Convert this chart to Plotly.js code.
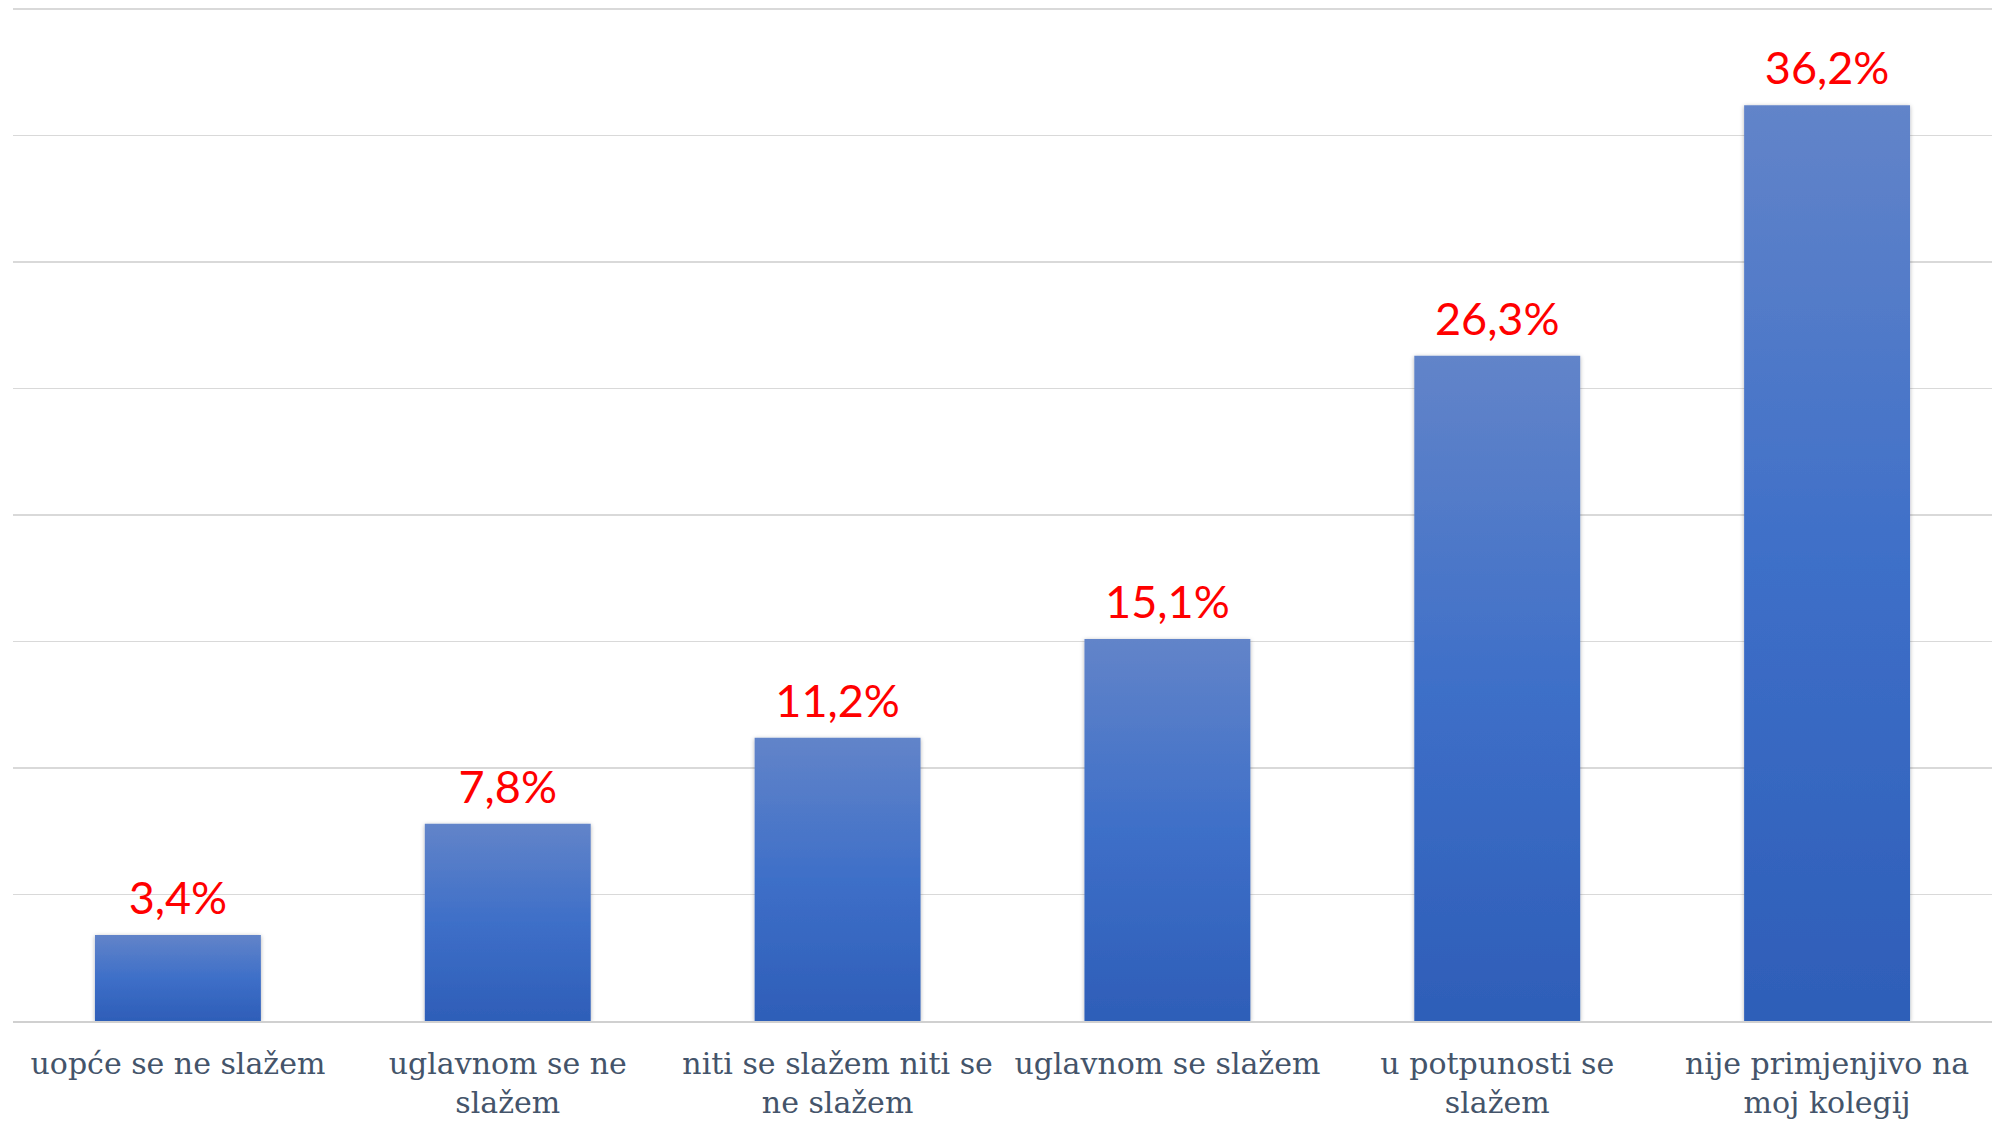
<!DOCTYPE html>
<html>
<head>
<meta charset="utf-8">
<script src="https://cdn.plot.ly/plotly-3.0.1.min.js"></script>
<style>
html,body{margin:0;padding:0;background:#fff;}
#chart{width:1992px;height:1125px;}
</style>
</head>
<body>
<div id="chart"></div>
<script>
var categories = [
  "uopće se ne slažem",
  "uglavnom se ne<br>slažem",
  "niti se slažem niti se<br>ne slažem",
  "uglavnom se slažem",
  "u potpunosti se<br>slažem",
  "nije primjenjivo na<br>moj kolegij"
];
var values = [3.4, 7.8, 11.2, 15.1, 26.3, 36.2];
var valueLabels = ["3,4%", "7,8%", "11,2%", "15,1%", "26,3%", "36,2%"];

var trace = {
  type: "bar",
  x: categories,
  y: values,
  text: valueLabels,
  texttemplate: "%{text}",
  textposition: "outside",
  cliponaxis: false,
  textfont: {family: "Lato, 'Open Sans', sans-serif", size: 45, color: "#ff0000"},
  marker: {color: "#3a6bc6", line: {width: 0}},
  hoverinfo: "skip"
};

var layout = {
  width: 1992,
  height: 1125,
  margin: {l: 13, r: 0, t: 0, b: 104},
  paper_bgcolor: "#ffffff",
  plot_bgcolor: "#ffffff",
  bargap: 0.497,
  showlegend: false,
  xaxis: {
    type: "category",
    showgrid: false,
    showline: true,
    linecolor: "#d0d0d0",
    linewidth: 2,
    ticks: "",
    ticklabelstandoff: 15,
    tickfont: {family: "'DejaVu Serif', serif", size: 30, color: "#44546a"},
    fixedrange: true
  },
  yaxis: {
    range: [0, 40.36],
    tick0: 0,
    dtick: 5,
    showgrid: true,
    gridcolor: "#d9d9d9",
    gridwidth: 1.5,
    showticklabels: false,
    zeroline: false,
    ticks: "",
    fixedrange: true
  }
};

function applyGradient(gd) {
  var svg = gd.querySelector("svg.main-svg");
  if (!svg) return;
  var ns = "http://www.w3.org/2000/svg";
  var defs = svg.querySelector("defs");
  if (!defs) { defs = document.createElementNS(ns, "defs"); svg.insertBefore(defs, svg.firstChild); }
  if (!svg.querySelector("#barGrad")) {
    var g = document.createElementNS(ns, "linearGradient");
    g.setAttribute("id", "barGrad");
    g.setAttribute("x1", "0"); g.setAttribute("y1", "0");
    g.setAttribute("x2", "0"); g.setAttribute("y2", "1");
    [["0", "#6284c9"], ["0.5", "#3e6fc8"], ["1", "#2e5eb8"]].forEach(function (s) {
      var st = document.createElementNS(ns, "stop");
      st.setAttribute("offset", s[0]);
      st.setAttribute("stop-color", s[1]);
      g.appendChild(st);
    });
    defs.appendChild(g);
    var f = document.createElementNS(ns, "filter");
    f.setAttribute("id", "barShadow");
    f.setAttribute("x", "-10%"); f.setAttribute("y", "-5%");
    f.setAttribute("width", "120%"); f.setAttribute("height", "110%");
    var ds = document.createElementNS(ns, "feDropShadow");
    ds.setAttribute("dx", "0"); ds.setAttribute("dy", "1");
    ds.setAttribute("stdDeviation", "2");
    ds.setAttribute("flood-color", "#000");
    ds.setAttribute("flood-opacity", "0.3");
    f.appendChild(ds);
    defs.appendChild(f);
  }
  gd.querySelectorAll(".barlayer .point path").forEach(function (p) {
    p.style.fill = "url(#barGrad)";
    p.setAttribute("filter", "url(#barShadow)");
  });
  gd.querySelectorAll(".barlayer .point text.bartext").forEach(function (t) {
    if (t.getAttribute("data-shifted")) return;
    var tr = t.getAttribute("transform") || "";
    t.setAttribute("transform", "translate(0,-8) " + tr);
    t.setAttribute("data-shifted", "1");
  });
}

var gd = document.getElementById("chart");
Plotly.newPlot(gd, [trace], layout, {displayModeBar: false, staticPlot: true}).then(function () {
  applyGradient(gd);
  gd.on("plotly_afterplot", function () { applyGradient(gd); });
});
</script>
</body>
</html>
